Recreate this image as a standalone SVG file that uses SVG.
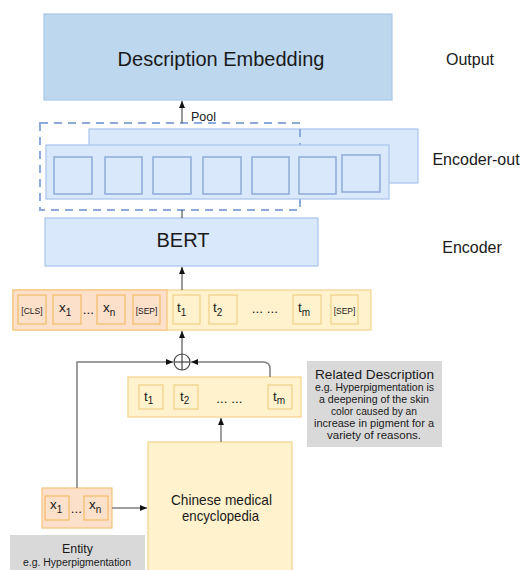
<svg xmlns="http://www.w3.org/2000/svg" width="525" height="570" viewBox="0 0 525 570">
<style>
text{font-family:"Liberation Sans",Arial,sans-serif;fill:#1a1a1a}
.blue{fill:#dae8fc;stroke:#a9c4eb;stroke-width:1.2}
.sq{fill:#dae8fc;stroke:#8eaad8;stroke-width:1.5}
.yel{fill:#fff2cc;stroke:#f5d28a;stroke-width:1.2}
.org{fill:#fde0c9;stroke:#f5c37c;stroke-width:1.2}
.tokY{fill:#fff2cc;stroke:#f0cf86;stroke-width:1.2}
.tokO{fill:#fde0c9;stroke:#f3bc68;stroke-width:1.2}
.gray{fill:#d9d9d9}
.lbl{font-size:16px}
.tok{font-size:13.5px}
.sub{font-size:10px}
.tiny{font-size:8.5px}
.ln{stroke:#7f7f7f;stroke-width:1.5;fill:none}
.lk{stroke:#333;stroke-width:1;fill:none}
</style>
<defs>
<marker id="ah" markerWidth="8" markerHeight="8" refX="7" refY="4" orient="auto" markerUnits="userSpaceOnUse">
<path d="M0,1 L7,4 L0,7 z" fill="#111"/>
</marker>
</defs>

<g id="output">
<rect x="44" y="14" width="348" height="86" fill="#bdd7ee" stroke="#a9c8e8" stroke-width="1.2"/>
<text x="221" y="66" font-size="20" text-anchor="middle">Description Embedding</text>
</g>
<text id="label-output" class="lbl" x="470" y="65" text-anchor="middle">Output</text>

<g id="encoder-out">
<rect class="blue" x="89" y="129" width="329" height="54"/>
<rect x="40" y="123" width="260" height="87" fill="none" stroke="#8eaadb" stroke-width="2" stroke-dasharray="8 6"/>
<rect class="blue" x="46" y="145" width="343" height="54"/>
<rect class="sq" x="54" y="157" width="38" height="37"/>
<rect class="sq" x="105" y="157" width="37" height="37"/>
<rect class="sq" x="153" y="157" width="38" height="37"/>
<rect class="sq" x="203" y="157" width="38" height="37"/>
<rect class="sq" x="252" y="157" width="37" height="37"/>
<rect class="sq" x="299" y="157" width="37" height="37"/>
<rect class="sq" x="342" y="155" width="38" height="37"/>
</g>
<text id="label-encoder-out" class="lbl" x="476" y="165" text-anchor="middle">Encoder-out</text>

<g id="bert">
<rect class="blue" x="45" y="218" width="273" height="48"/>
<text x="183" y="247" font-size="20" text-anchor="middle">BERT</text>
</g>
<text id="label-encoder" class="lbl" x="472" y="253" text-anchor="middle">Encoder</text>

<g id="input-sequence">
<rect class="yel" x="13" y="290" width="358" height="40"/>
<rect class="org" x="13" y="290" width="154" height="40"/>
<rect class="tokO" x="18" y="295" width="28" height="29"/>
<text class="tiny" x="32" y="314" text-anchor="middle">[CLS]</text>
<rect class="tokO" x="53" y="295" width="28" height="29"/>
<text class="tok" x="59" y="312">x<tspan class="sub" dy="4">1</tspan></text>
<text class="tok" x="88.5" y="314" text-anchor="middle">...</text>
<rect class="tokO" x="97" y="295" width="28" height="29"/>
<text class="tok" x="103" y="312">x<tspan class="sub" dy="4">n</tspan></text>
<rect class="tokO" x="133" y="295" width="27" height="29"/>
<text class="tiny" x="146.5" y="314" text-anchor="middle">[SEP]</text>
<rect class="tokY" x="173" y="295" width="27" height="29"/>
<text class="tok" x="177" y="312">t<tspan class="sub" dy="4">1</tspan></text>
<rect class="tokY" x="209" y="295" width="28" height="29"/>
<text class="tok" x="213" y="312">t<tspan class="sub" dy="4">2</tspan></text>
<text class="tok" x="265" y="313" text-anchor="middle">... ...</text>
<rect class="tokY" x="293" y="295" width="28" height="29"/>
<text class="tok" x="298" y="312">t<tspan class="sub" dy="4">m</tspan></text>
<rect class="tokY" x="331" y="295" width="27" height="29"/>
<text class="tiny" x="344.5" y="314" text-anchor="middle">[SEP]</text>
</g>

<g id="plus">
<circle cx="182" cy="362" r="8" fill="#fff" stroke="#444" stroke-width="1.2"/>
<line x1="174" y1="362" x2="190" y2="362" stroke="#444" stroke-width="1.2"/>
<line x1="182" y1="354" x2="182" y2="370" stroke="#444" stroke-width="1.2"/>
</g>

<g id="description-tokens">
<rect class="yel" x="128" y="377" width="173" height="40"/>
<rect class="tokY" x="139" y="385" width="24" height="24"/>
<text class="tok" x="144" y="401">t<tspan class="sub" dy="3">1</tspan></text>
<rect class="tokY" x="174" y="385" width="24" height="24"/>
<text class="tok" x="180" y="401">t<tspan class="sub" dy="3">2</tspan></text>
<text class="tok" x="229.5" y="403" text-anchor="middle">... ...</text>
<rect class="tokY" x="268" y="385" width="24" height="24"/>
<text class="tok" x="273" y="401">t<tspan class="sub" dy="3">m</tspan></text>
</g>

<g id="related-description">
<rect class="gray" x="307" y="361" width="135" height="86"/>
<text x="374.5" y="378.5" font-size="13.5" text-anchor="middle" textLength="119" lengthAdjust="spacingAndGlyphs">Related Description</text>
<text x="374.5" y="391" font-size="10.5" text-anchor="middle" textLength="119" lengthAdjust="spacingAndGlyphs">e.g. Hyperpigmentation is</text>
<text x="374" y="403" font-size="10.5" text-anchor="middle" textLength="110" lengthAdjust="spacingAndGlyphs">a deepening of the skin</text>
<text x="374" y="415" font-size="10.5" text-anchor="middle" textLength="86" lengthAdjust="spacingAndGlyphs">color caused by an</text>
<text x="374" y="427" font-size="10.5" text-anchor="middle" textLength="120" lengthAdjust="spacingAndGlyphs">increase in pigment for a</text>
<text x="374" y="439" font-size="10.5" text-anchor="middle" textLength="94" lengthAdjust="spacingAndGlyphs">variety  of reasons.</text>
</g>

<g id="encyclopedia">
<rect class="yel" x="148" y="442" width="144" height="135"/>
<text x="221.5" y="505" font-size="14.5" text-anchor="middle" textLength="101" lengthAdjust="spacingAndGlyphs">Chinese medical</text>
<text x="220.5" y="521" font-size="14.5" text-anchor="middle" textLength="77" lengthAdjust="spacingAndGlyphs">encyclopedia</text>
</g>

<g id="entity-tokens">
<rect class="org" x="42" y="488" width="70" height="40"/>
<rect class="tokO" x="45" y="496" width="24" height="24"/>
<text class="tok" x="50" y="509">x<tspan class="sub" dy="4">1</tspan></text>
<text class="tok" x="76.5" y="513" text-anchor="middle">...</text>
<rect class="tokO" x="84" y="496" width="24" height="24"/>
<text class="tok" x="89" y="509">x<tspan class="sub" dy="4">n</tspan></text>
</g>

<g id="entity-label">
<rect class="gray" x="10" y="535" width="135" height="40"/>
<text x="77.5" y="553" font-size="13.5" text-anchor="middle" textLength="31" lengthAdjust="spacingAndGlyphs">Entity</text>
<text x="77" y="566" font-size="10" text-anchor="middle" textLength="108" lengthAdjust="spacingAndGlyphs">e.g. Hyperpigmentation</text>
</g>

<text id="pool-label" x="191" y="121" font-size="12.5">Pool</text>

<g id="connectors">
<line class="lk" x1="182" y1="123" x2="182" y2="101" marker-end="url(#ah)"/>
<line class="lk" x1="182" y1="210" x2="182" y2="218"/>
<line class="lk" x1="182" y1="290" x2="182" y2="267" marker-end="url(#ah)"/>
<line class="lk" x1="182" y1="354" x2="182" y2="331" marker-end="url(#ah)"/>
<path class="ln" d="M77,488 V362 H173" marker-end="url(#ah)"/>
<path class="ln" d="M270,377 V369 Q270,362 263,362 H191" marker-end="url(#ah)"/>
<line class="ln" x1="221" y1="442" x2="221" y2="418" marker-end="url(#ah)"/>
<line class="ln" x1="112" y1="508" x2="147" y2="508" marker-end="url(#ah)"/>
</g>
</svg>
